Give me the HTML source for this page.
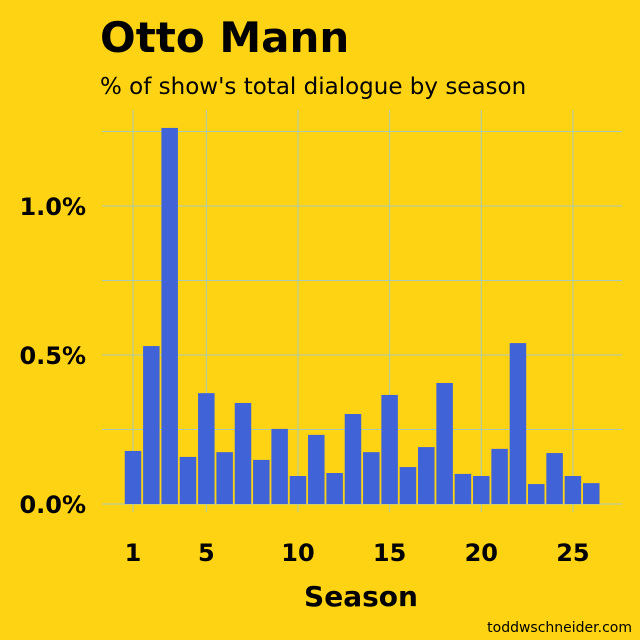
<!DOCTYPE html>
<html><head><meta charset="utf-8"><style>
body{margin:0;background:#FED314;}
svg{display:block;font-family:"DejaVu Sans","Liberation Sans",sans-serif;}
</style></head><body>
<svg id="c" width="640" height="640" viewBox="0 0 640 640">
<rect width="640" height="640" fill="#FED314"/>
<text x="100" y="52" font-size="42" font-weight="bold" fill="#000">Otto Mann</text>
<text x="100" y="94" font-size="23" fill="#000">% of show's total dialogue by season</text>
<g id="grid"></g>
<g id="bars"></g>
<g id="axes"></g>
<text x="361" y="606" font-size="28" font-weight="bold" text-anchor="middle" fill="#000">Season</text>
<text x="632" y="632" font-size="14" text-anchor="end" fill="#000">toddwschneider.com</text>
</svg>
<script>
const seasons=[1,2,3,4,5,6,7,8,9,10,11,12,13,14,15,16,17,18,19,20,21,22,23,24,25,26];
const values=[0.178,0.53,1.262,0.158,0.372,0.174,0.339,0.148,0.252,0.094,0.232,0.104,0.302,0.174,0.366,0.124,0.191,0.406,0.101,0.094,0.185,0.54,0.067,0.171,0.094,0.07];
const xTicks=[1,5,10,15,20,25];
const yTicks=[0,0.5,1.0];
const yTickLabels=["0.0%","0.5%","1.0%"];
const yMinor=[0.25,0.75,1.25];
const NS="http://www.w3.org/2000/svg";
const X=s=>133+(s-1)*18.33;
const Y=v=>504-v*298;
function mk(tag,attrs,parent){const e=document.createElementNS(NS,tag);for(const k in attrs)e.setAttribute(k,attrs[k]);parent.appendChild(e);return e;}
const grid=document.getElementById('grid'),bars=document.getElementById('bars'),axes=document.getElementById('axes');
const gc="#a9cbb6";
yMinor.concat(yTicks).forEach(v=>{const l=mk('line',{x1:102,x2:622,y1:Y(v),y2:Y(v),stroke:gc,'stroke-width':1},grid);

});
xTicks.forEach(s=>{const l=mk('line',{x1:X(s),x2:X(s),y1:110,y2:512,stroke:gc,'stroke-width':1},grid);

});
const bw=18.33*0.9;
seasons.forEach((s,i)=>{const r=mk('rect',{x:X(s)-bw/2,y:Y(values[i]),width:bw,height:Y(0)-Y(values[i]),fill:"#4063D8"},bars);

});
xTicks.forEach(s=>{const t=mk('text',{x:X(s),y:561,'font-size':24,'font-weight':'bold','text-anchor':'middle',fill:'#000'},axes);t.textContent=s;

});
yTicks.forEach((v,i)=>{const t=mk('text',{x:86,y:Y(v)+9,'font-size':24,'font-weight':'bold','text-anchor':'end',fill:'#000'},axes);t.textContent=yTickLabels[i];

});
</script>
</body></html>
